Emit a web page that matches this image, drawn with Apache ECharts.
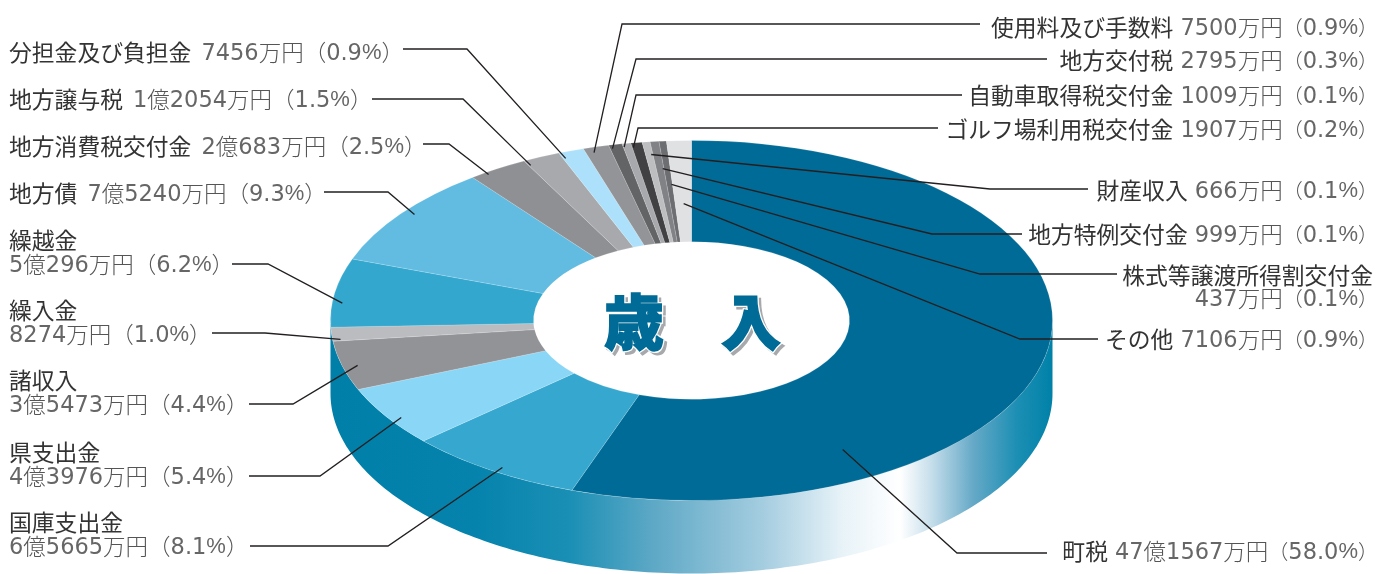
<!DOCTYPE html>
<html>
<head>
<meta charset="utf-8">
<style>html,body{margin:0;padding:0;background:#fff}#chart{width:1378px;height:574px}</style>
<script src="https://cdn.jsdelivr.net/npm/echarts@6/dist/echarts.min.js"></script>
</head>
<body>
<div id="chart"></div>
<script>
// 歳入の内訳（単位: 万円）
const categories = ['町税','国庫支出金','県支出金','諸収入','繰入金','繰越金','地方債','地方消費税交付金','地方譲与税','分担金及び負担金','使用料及び手数料','地方交付税','自動車取得税交付金','ゴルフ場利用税交付金','財産収入','地方特例交付金','株式等譲渡所得割交付金','その他'];
const amounts = [471567,65665,43976,35473,8274,50296,75240,20683,12054,7456,7500,2795,1009,1907,666,999,437,7106];
const amountLabels = ['47億1567万円','6億5665万円','4億3976万円','3億5473万円','8274万円','5億296万円','7億5240万円','2億683万円','1億2054万円','7456万円','7500万円','2795万円','1009万円','1907万円','666万円','999万円','437万円','7106万円'];
const percents = ['58.0','8.1','5.4','4.4','1.0','6.2','9.3','2.5','1.5','0.9','0.9','0.3','0.1','0.2','0.1','0.1','0.1','0.9'];
const sliceColors = ['#006b96','#36a7cf','#8ad6f7','#929397','#bbbcc0','#33a7cd','#62bce2','#8f9094','#a8a9ad','#ade1fb','#939497','#636466','#a7a9ac','#414042','#bcbec0','#808285','#6d6e71','#e0e1e3'];

// 円盤の形状
const disc = {cx: 691.5, cy: 320.5, rx: 361, ry: 180, holeRatio: 0.4377, depth: 73};
// 細い項目も見えるよう、各扇形に確保する最小角（度）
const sliceFloorDeg = 1;

// 引出線の先端: 扇形内の角度位置と半径比
const tipAlong = [.751,.466,.42,.467,.1,.353,.535,.27,.05,.1,.31,.17,.1,.09,.76,.84,.82,.52];
const tipRadial = [.83,.97,.968,.958,.978,.972,.967,.987,.97,.966,.971,.98,.981,.974,.929,.848,.758,.65];
// 引出線の折れ点と文字側の端 [折れx, y, 端x]
const leaderRuns = [[957,553,1047],[388,546,250],[320,476,249],[293,404,249],[265,333,212],[268,264,232],[388,192,324],[449,144,423],[463,99,372],[467,49,403],[622,24,980],[636,59,1047],[636,95,962],[638,128,938],[990,189,1088],[932,234,1022],[980,274,1117],[1020,339,1098]];
// ラベル位置 [x, 1行目y, 2行目y または null, 1行目のx（2行の右寄せ項目のみ）]
const labelSpots = [[1378,551,null],[9,522,546],[9,452,476],[9,380,404],[9,310,334],[9,240,264],[9,193,null],[9,146,null],[9,99,null],[9,52,null],[1378,27,null],[1378,60,null],[1378,95,null],[1378,129,null],[1378,190,null],[1378,234,null],[1378,275,298,1373],[1378,339,null]];

const total = amounts.reduce((a, b) => a + b, 0);
const sweepScale = (360 - sliceFloorDeg * amounts.length) / 360;
const sweeps = amounts.map(v => sliceFloorDeg + sweepScale * v / total * 360);
const starts = sweeps.map((_, i) => sweeps.slice(0, i).reduce((a, b) => a + b, 0));

const rad = d => (d - 90) * Math.PI / 180;
const ellipsePoint = (deg, r) => [disc.cx + disc.rx * r * Math.cos(rad(deg)), disc.cy + disc.ry * r * Math.sin(rad(deg))];

const NAME_FONT = '"Noto Sans CJK JP"';
const VALUE_COLOR = '#666';
const richStyles = {
  n: {fontFamily: NAME_FONT, fontSize: 22.8, fill: '#333'},
  gl: {fontFamily: NAME_FONT, fontSize: 10, width: 10},
  gr: {fontFamily: NAME_FONT, fontSize: 10, width: 7},
  d: {fontFamily: '"DejaVu Sans"', fontSize: 22.5, fill: VALUE_COLOR, padding: [4, 0, 0, 0]},
  p: {fontFamily: '"Liberation Sans"', fontSize: 22, fill: VALUE_COLOR, padding: [2, 0, 0, 0]},
  u: {fontFamily: NAME_FONT, fontSize: 22.5, fontWeight: 300, fill: '#555'},
  b: {fontFamily: NAME_FONT, fontSize: 20, fontWeight: 300, fill: '#555'}
};
const valueText = (i, parenToken) => `${amountLabels[i]}（${percents[i]}%）`.split(/([0-9.]+|%|[（）])/).filter(Boolean)
  .map(p => {
    if (p === '%') return `{p|%}`;
    if (p === '（' || p === '）') return `{${parenToken}|${p}}`;
    return /^[0-9.]+$/.test(p) ? `{d|${p}}` : `{u|${p}}`;
  }).join('');

function wallPoints() {
  const pts = [];
  for (let a = 90; a <= 270; a += 1) pts.push(ellipsePoint(a, 1));
  for (let a = 270; a >= 90; a -= 1) {
    const p = ellipsePoint(a, 1);
    pts.push([p[0], p[1] + disc.depth]);
  }
  return pts;
}

const wallGradient = {
  type: 'linear', x: disc.cx - disc.rx, y: 0, x2: disc.cx + disc.rx, y2: 0, global: true,
  colorStops: [
    {offset: 0, color: '#007fa8'}, {offset: .2, color: '#0583ac'}, {offset: .33, color: '#1a8fb5'},
    {offset: .45, color: '#5fa9c6'}, {offset: .6, color: '#a5cde0'}, {offset: .71, color: '#e8f3f8'},
    {offset: .789, color: '#ffffff'}, {offset: .83, color: '#c9e0ec'}, {offset: .89, color: '#66a9c7'},
    {offset: .95, color: '#1d8fb4'}, {offset: 1, color: '#0081a8'}
  ]
};

function renderWall() {
  return {type: 'polygon', shape: {points: wallPoints()}, style: {fill: wallGradient}};
}

function renderSlice(params) {
  const i = params.dataIndex;
  return {
    type: 'group', x: disc.cx, y: disc.cy, scaleY: disc.ry / disc.rx,
    children: [{
      type: 'sector',
      shape: {cx: 0, cy: 0, r: disc.rx, r0: disc.rx * disc.holeRatio, startAngle: rad(starts[i]), endAngle: rad(starts[i] + sweeps[i]), clockwise: true},
      style: {fill: sliceColors[i], stroke: 'rgba(255,255,255,.35)', lineWidth: .6}
    }]
  };
}

function renderLabel(params) {
  const i = params.dataIndex;
  const [x, y1, y2, nameX] = labelSpots[i];
  const isLeft = x < 100;
  const align = isLeft ? 'left' : 'right';
  const [ex, ey, tx] = leaderRuns[i];
  const tip = ellipsePoint(starts[i] + sweeps[i] * tipAlong[i], tipRadial[i]);
  const children = [{
    type: 'polyline', shape: {points: [tip, [ex, ey], [tx, ey]]},
    style: {fill: 'none', stroke: '#231f20', lineWidth: 1.3}
  }];
  const text = (t, y, tx2) => ({type: 'text', style: {x: tx2 === undefined ? x : tx2, y, text: t, rich: richStyles, align, verticalAlign: 'middle'}});
  const value = valueText(i, isLeft ? 'u' : 'b');
  if (y2 === null) {
    children.push(text(`{n|${categories[i]}}{${isLeft ? 'gl' : 'gr'}| }${value}`, y1));
  } else {
    children.push(text(`{n|${categories[i]}}`, y1, nameX), text(value, y2));
  }
  return {type: 'group', children};
}

function renderCaption(params) {
  const chars = ['歳', '入'];
  const xs = [634, 751];
  const x = xs[params.dataIndex], y = 322, ch = chars[params.dataIndex];
  const base = {text: ch, x, y, align: 'center', verticalAlign: 'middle', fontFamily: NAME_FONT, fontWeight: 900, fontSize: 60};
  return {type: 'group', children: [
    {type: 'text', style: Object.assign({}, base, {x: x + 3, y: y + 3, fill: '#a7a9ac', stroke: '#a7a9ac', lineWidth: 3})},
    {type: 'text', style: Object.assign({}, base, {fill: '#fff', stroke: '#fff', lineWidth: 4})},
    {type: 'text', style: Object.assign({}, base, {fill: '#006b96', stroke: '#006b96', lineWidth: 1.5})}
  ]};
}

const rows = amounts.map((v, i) => [i, v]);
const chart = echarts.init(document.getElementById('chart'), null, {renderer: 'canvas'});
chart.setOption({
  animation: false,
  backgroundColor: '#fff',
  series: [
    {type: 'custom', coordinateSystem: 'none', z: 1, silent: true, data: [[0]], renderItem: renderWall},
    {type: 'custom', coordinateSystem: 'none', z: 2, silent: true, data: rows, renderItem: renderSlice},
    {type: 'custom', coordinateSystem: 'none', z: 3, silent: true, data: rows, renderItem: renderLabel},
    {type: 'custom', coordinateSystem: 'none', z: 4, silent: true, data: [[0], [1]], renderItem: renderCaption}
  ]
});
</script>
</body>
</html>
